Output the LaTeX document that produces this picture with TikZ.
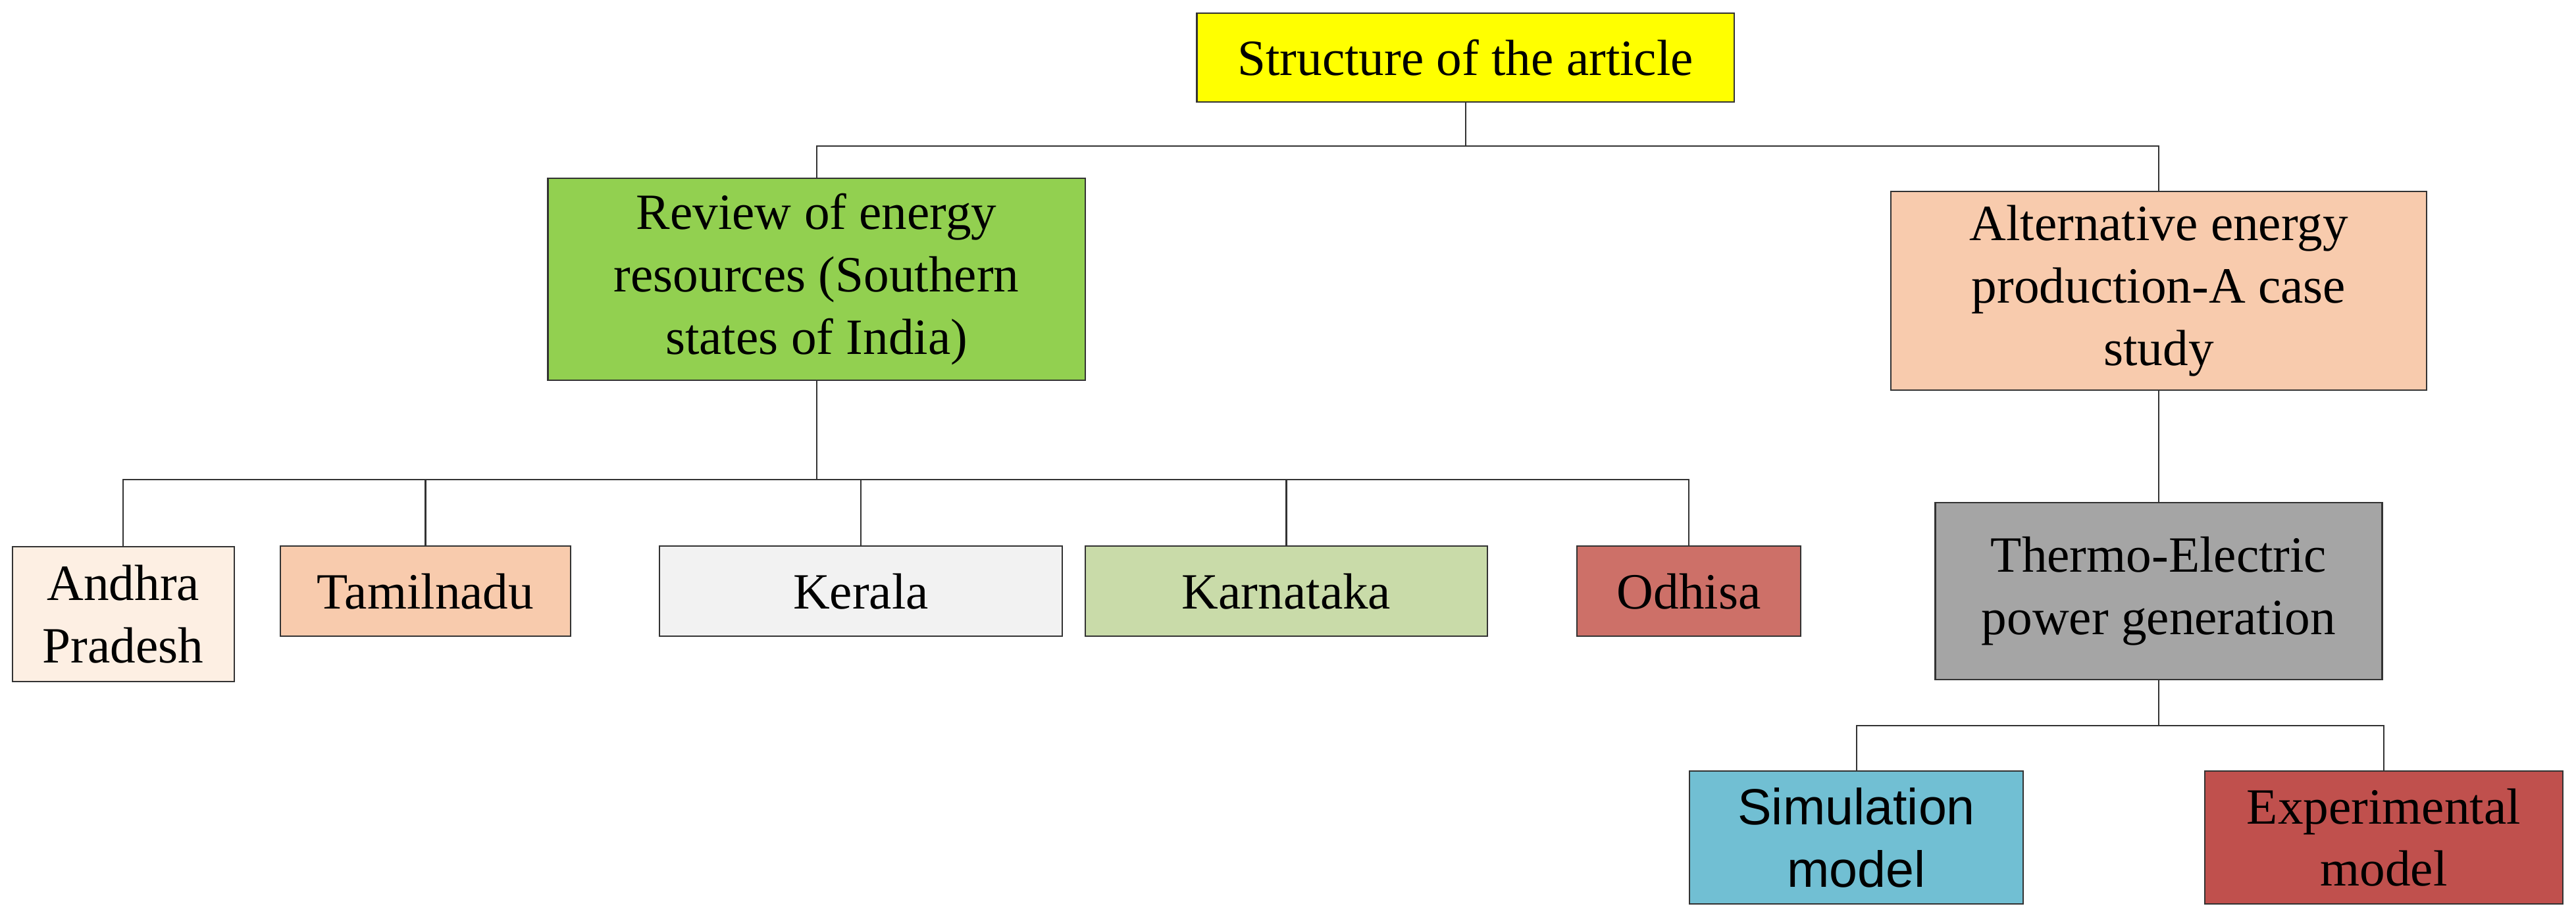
\documentclass[tikz,border=0pt]{standalone}
\usepackage{fontspec}
\setmainfont{Liberation Serif}
\setsansfont{Liberation Sans}
\definecolor{cYellow}{HTML}{FFFF00}
\definecolor{cGreen}{HTML}{92D050}
\definecolor{cPeach}{HTML}{F8CBAD}
\definecolor{cAndhra}{HTML}{FDEFE3}
\definecolor{cKerala}{HTML}{F2F2F2}
\definecolor{cKarna}{HTML}{C9DBA9}
\definecolor{cOdhisa}{HTML}{CD7068}
\definecolor{cThermo}{HTML}{A5A5A5}
\definecolor{cSim}{HTML}{71BFD3}
\definecolor{cExp}{HTML}{C0504D}
\begin{document}
\begin{tikzpicture}[x=0.025cm,y=-0.025cm,
	box/.style={draw=black!80,line width=0.6pt,align=center,inner sep=0pt,font=\fontsize{22}{27}\selectfont},
	link/.style={draw=black!80,line width=0.6pt}]
	\useasboundingbox (0,0) rectangle (1568,562);
	\node[box,fill=cYellow,minimum width=327*0.025cm,minimum height=54*0.025cm] (S) at (892,35) {Structure of the article};
	\node[box,fill=cGreen,minimum width=327*0.025cm,minimum height=123*0.025cm] (R) at (497,170) {Review of energy\\resources (Southern\\states of India)};
	\node[box,fill=cPeach,minimum width=326*0.025cm,minimum height=121*0.025cm] (A) at (1314,177) {Alternative energy\\production-A case\\study};
	
	\node[box,fill=cAndhra,minimum width=135*0.025cm,minimum height=82*0.025cm] (AP) at (75,374) {Andhra\\Pradesh};
	\node[box,fill=cPeach,minimum width=177*0.025cm,minimum height=55*0.025cm] (TN) at (259,360) {Tamilnadu};
	\node[box,fill=cKerala,minimum width=245*0.025cm,minimum height=55*0.025cm] (KE) at (524,360) {Kerala};
	\node[box,fill=cKarna,minimum width=245*0.025cm,minimum height=55*0.025cm] (KA) at (783,360) {Karnataka};
	\node[box,fill=cOdhisa,minimum width=136*0.025cm,minimum height=55*0.025cm] (OD) at (1028,360) {Odhisa};
	
	\node[box,fill=cThermo,minimum width=272*0.025cm,minimum height=108*0.025cm] (T) at (1314,360) {Thermo-Electric\\power generation};
	\node[box,fill=cSim,minimum width=203*0.025cm,minimum height=81*0.025cm,font=\sffamily\fontsize{22}{27}\selectfont] (SM) at (1130,510) {Simulation\\model};
	\node[box,fill=cExp,minimum width=218*0.025cm,minimum height=81*0.025cm] (EM) at (1451,510) {Experimental\\model};
	
	\draw[link] (S.south) |- (R.north |- 0,89) -- (R.north);
	\draw[link] (S.south) |- (A.north |- 0,89) -- (A.north);
	\foreach \n in {AP,TN,KE,KA,OD}{
		\draw[link] (R.south) |- (\n.north |- 0,292) -- (\n.north);
	}
	\draw[link] (A) -- (T);
	\draw[link] (T.south) |- (SM.north |- 0,442) -- (SM.north);
	\draw[link] (T.south) |- (EM.north |- 0,442) -- (EM.north);
\end{tikzpicture}
\end{document}
